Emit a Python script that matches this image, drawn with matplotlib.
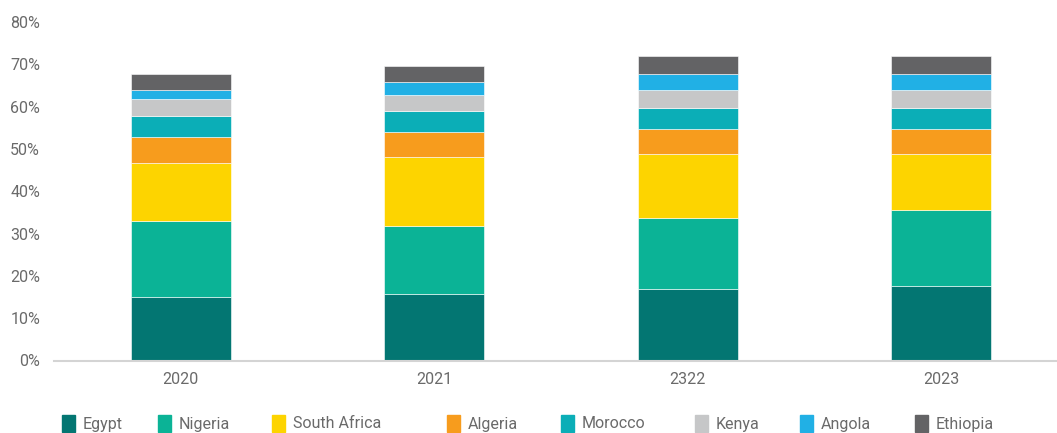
import numpy as np
import matplotlib.pyplot as plt
from matplotlib.patches import Rectangle
from matplotlib.ticker import PercentFormatter

plt.rcParams['font.family'] = ['Roboto', 'DejaVu Sans']

years = ['2020', '2021', '2322', '2023']
countries = ['Egypt', 'Nigeria', 'South Africa', 'Algeria', 'Morocco',
             'Kenya', 'Angola', 'Ethiopia']
colors = ['#037672', '#0bb396', '#fdd400', '#f79c1d', '#0baeb7',
          '#c6c7c8', '#21b0e5', '#636365']

# share of total, in %
egypt = [15.0, 15.7, 17.0, 17.6]
nigeria = [17.9, 16.1, 16.7, 18.0]
south_africa = [13.8, 16.2, 15.0, 13.1]
algeria = [6.2, 6.0, 6.1, 6.1]
morocco = [4.8, 4.9, 4.8, 4.8]
kenya = [4.0, 3.9, 4.3, 4.3]
angola = [2.2, 3.1, 3.9, 3.9]
ethiopia = [3.8, 3.8, 4.1, 4.1]

series = [egypt, nigeria, south_africa, algeria, morocco, kenya, angola, ethiopia]

W, H = 1057, 433
fig = plt.figure(figsize=(W / 100, H / 100), dpi=100)
ax = fig.add_axes([54 / W, 72.5 / H, 1014 / W, 338.5 / H])

x = np.arange(len(years))
bottom = np.zeros(len(years))
for vals, name, col in zip(series, countries, colors):
    v = np.array(vals) / 100
    ax.bar(x, v, width=0.395, bottom=bottom, color=col, label=name,
           edgecolor='white', linewidth=0.4)
    bottom += v

ax.set_xlim(-0.5, 3.5)
ax.set_ylim(0, 0.8)
ax.set_yticks(np.arange(0, 0.81, 0.1))
ax.yaxis.set_major_formatter(PercentFormatter(1.0, decimals=0))
ax.set_xticks(x)
ax.set_xticklabels(years)
ax.tick_params(axis='both', length=0, labelsize=11.5, colors='#6a6a6a')
ax.tick_params(axis='y', pad=10)
ax.tick_params(axis='x', pad=8)
for s in ['top', 'right', 'left']:
    ax.spines[s].set_visible(False)
ax.spines['bottom'].set_color('#d4d4d4')
ax.spines['bottom'].set_linewidth(1.5)

# legend row along the bottom
legend_x = [62, 158, 272, 447, 561, 695, 800, 915]
for lx, name, col in zip(legend_x, countries, colors):
    fig.patches.append(Rectangle((lx / W, 1.5 / H), 13 / W, 17 / H,
                                 transform=fig.transFigure, color=col))
    fig.text((lx + 21) / W, 4.5 / H, name, fontsize=11.5, color='#6a6a6a',
             va='baseline', ha='left')

fig.savefig('out.png', dpi=100)
